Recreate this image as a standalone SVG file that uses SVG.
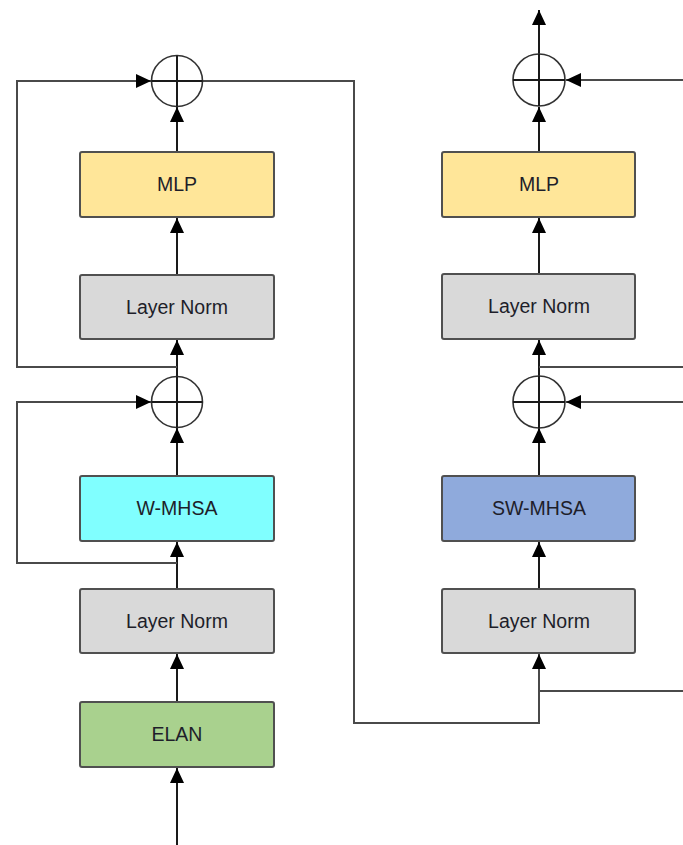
<svg xmlns="http://www.w3.org/2000/svg" width="683" height="845" viewBox="0 0 683 845">
<style>
.box{stroke:#505050;stroke-width:2}
.lbl{font-family:"Liberation Sans",Arial,sans-serif;font-size:19.5px;fill:#1e1e2a;text-anchor:middle}
.ln{fill:none;stroke:#1a1a1a;stroke-width:2}
.sk{fill:none;stroke:#4a4a4a;stroke-width:2}
.sum{fill:#ffffff;stroke:#333333;stroke-width:1.6}
.cross{stroke:#1a1a1a;stroke-width:2}
</style>
<defs>
<marker id="ah" markerUnits="userSpaceOnUse" markerWidth="16" markerHeight="15" refX="15" refY="7" orient="auto">
<path d="M0,0 L15,7 L0,14 z" fill="#000"/>
</marker>
</defs>
<rect width="683" height="845" fill="#ffffff"/>

<g id="connectors">
<!-- left column -->
<line class="ln" x1="177" y1="845" x2="177" y2="768" marker-end="url(#ah)"/>
<line class="ln" x1="177" y1="702" x2="177" y2="654" marker-end="url(#ah)"/>
<line class="ln" x1="177" y1="589" x2="177" y2="542" marker-end="url(#ah)"/>
<polyline class="sk" points="177,563 17,563 17,402 151,402" marker-end="url(#ah)"/>
<line class="ln" x1="177" y1="476" x2="177" y2="428" marker-end="url(#ah)"/>
<line class="ln" x1="177" y1="376" x2="177" y2="340" marker-end="url(#ah)"/>
<polyline class="sk" points="177,367 17,367 17,81 151,81" marker-end="url(#ah)"/>
<line class="ln" x1="177" y1="275" x2="177" y2="218" marker-end="url(#ah)"/>
<line class="ln" x1="177" y1="152" x2="177" y2="107" marker-end="url(#ah)"/>
<polyline class="sk" points="203,81 354,81 354,723 539,723 539,654" marker-end="url(#ah)"/>
<!-- right column -->
<line class="sk" x1="683" y1="691" x2="539" y2="691"/>
<line class="ln" x1="539" y1="589" x2="539" y2="542" marker-end="url(#ah)"/>
<line class="ln" x1="539" y1="476" x2="539" y2="428" marker-end="url(#ah)"/>
<line class="sk" x1="683" y1="402" x2="566" y2="402" marker-end="url(#ah)"/>
<line class="ln" x1="539" y1="376" x2="539" y2="340" marker-end="url(#ah)"/>
<line class="sk" x1="539" y1="367" x2="683" y2="367"/>
<line class="ln" x1="539" y1="274" x2="539" y2="218" marker-end="url(#ah)"/>
<line class="ln" x1="539" y1="152" x2="539" y2="107" marker-end="url(#ah)"/>
<line class="sk" x1="683" y1="80" x2="566" y2="80" marker-end="url(#ah)"/>
<line class="ln" x1="539" y1="54" x2="539" y2="10" marker-end="url(#ah)"/>
</g>

<g id="sum-left-top">
<circle class="sum" cx="177" cy="81" r="25.5"/>
<line class="cross" x1="151.5" y1="81" x2="202.5" y2="81"/>
<line class="cross" x1="177" y1="55.5" x2="177" y2="106.5"/>
</g>
<g id="sum-left-mid">
<circle class="sum" cx="177" cy="402" r="25.5"/>
<line class="cross" x1="151.5" y1="402" x2="202.5" y2="402"/>
<line class="cross" x1="177" y1="376.5" x2="177" y2="427.5"/>
</g>
<g id="sum-right-top">
<circle class="sum" cx="539" cy="80" r="26"/>
<line class="cross" x1="513" y1="80" x2="565" y2="80"/>
<line class="cross" x1="539" y1="54" x2="539" y2="106"/>
</g>
<g id="sum-right-mid">
<circle class="sum" cx="539" cy="402" r="26"/>
<line class="cross" x1="513" y1="402" x2="565" y2="402"/>
<line class="cross" x1="539" y1="376" x2="539" y2="428"/>
</g>

<g id="mlp-left">
<rect class="box" x="80" y="152" width="194" height="65" rx="2" fill="#FFE699"/>
<text class="lbl" x="177" y="191">MLP</text>
</g>
<g id="layernorm-left-top">
<rect class="box" x="80" y="275" width="194" height="64" rx="2" fill="#D9D9D9"/>
<text class="lbl" x="177" y="314">Layer Norm</text>
</g>
<g id="wmhsa">
<rect class="box" x="80" y="476" width="194" height="65" rx="2" fill="#80FFFF"/>
<text class="lbl" x="177" y="515">W-MHSA</text>
</g>
<g id="layernorm-left-bottom">
<rect class="box" x="80" y="589" width="194" height="64" rx="2" fill="#D9D9D9"/>
<text class="lbl" x="177" y="628">Layer Norm</text>
</g>
<g id="elan">
<rect class="box" x="80" y="702" width="194" height="65" rx="2" fill="#A9D18E"/>
<text class="lbl" x="177" y="741">ELAN</text>
</g>

<g id="mlp-right">
<rect class="box" x="442" y="152" width="193" height="65" rx="2" fill="#FFE699"/>
<text class="lbl" x="539" y="191">MLP</text>
</g>
<g id="layernorm-right-top">
<rect class="box" x="442" y="274" width="193" height="65" rx="2" fill="#D9D9D9"/>
<text class="lbl" x="539" y="313">Layer Norm</text>
</g>
<g id="swmhsa">
<rect class="box" x="442" y="476" width="193" height="65" rx="2" fill="#8FAADC"/>
<text class="lbl" x="539" y="515">SW-MHSA</text>
</g>
<g id="layernorm-right-bottom">
<rect class="box" x="442" y="589" width="193" height="64" rx="2" fill="#D9D9D9"/>
<text class="lbl" x="539" y="628">Layer Norm</text>
</g>
</svg>
